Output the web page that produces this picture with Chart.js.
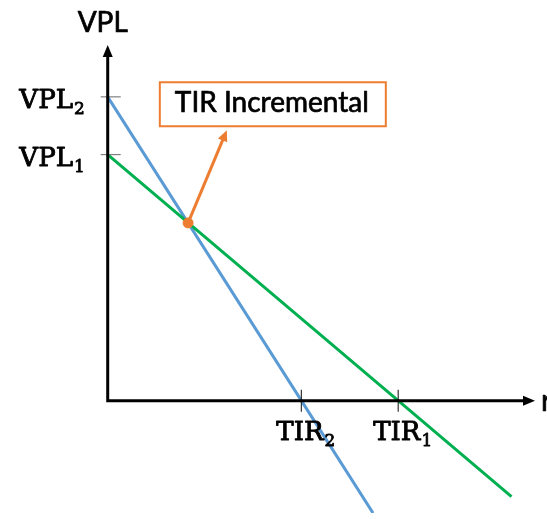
<!DOCTYPE html>
<html>
<head>
<meta charset="utf-8">
<script src="https://cdn.jsdelivr.net/npm/chart.js@4/dist/chart.umd.min.js"></script>
<style>
html,body{margin:0;padding:0;background:#fff;overflow:hidden;}
canvas{display:block;}
</style>
</head>
<body>
<canvas id="c" width="547" height="519"></canvas>
<script>
// ---- data ----
const vplValues = [100, 81];          // VPL2, VPL1 (intercepts on the VPL axis)
const tirValues = [2, 3];             // TIR2, TIR1 (intercepts on the r axis)
const yTickLabels = [["VPL", "2"], ["VPL", "1"]];
const xTickLabels = [["TIR", "2"], ["TIR", "1"]];
const project2 = [{x: 0, y: 100}, {x: 2, y: 0}, {x: 2.74, y: -37}];   // blue
const project1 = [{x: 0, y: 81}, {x: 3, y: 0}, {x: 4.17, y: -31.6}];   // green
const incremental = [{x: 0.83, y: 58.5}];   // crossing point (TIR incremental)
const arrowTip = {x: 1.23, y: 89};
const axisTitleY = "VPL";
const axisTitleX = "r";
const calloutText = "TIR Incremental";

const BLUE = '#5B9BD5', GREEN = '#00B050', ORANGE = '#ED7D31';

function arrowHead(ctx, x, y, angle, len, half) {
  ctx.save();
  ctx.translate(x, y);
  ctx.rotate(angle);
  ctx.beginPath();
  ctx.moveTo(0, 0);
  ctx.lineTo(-len, -half);
  ctx.lineTo(-len, half);
  ctx.closePath();
  ctx.fill();
  ctx.restore();
}

function heavyText(ctx, txt, x, y, w) {
  ctx.fillText(txt, x, y);
  ctx.save();
  ctx.lineWidth = w;
  ctx.strokeStyle = ctx.fillStyle;
  ctx.lineJoin = 'round';
  ctx.strokeText(txt, x, y);
  ctx.restore();
}

function subLabel(ctx, main, sub, x, y, align) {
  ctx.font = '26px "DejaVu Serif"';
  const w1 = ctx.measureText(main).width;
  ctx.font = '17px "DejaVu Serif"';
  const w2 = ctx.measureText(sub).width;
  let left = x;
  if (align === 'right') left = x - w1 - w2;
  ctx.textAlign = 'left';
  ctx.textBaseline = 'alphabetic';
  ctx.font = '26px "DejaVu Serif"';
  heavyText(ctx, main, left, y, 0.9);
  ctx.font = '17px "DejaVu Serif"';
  heavyText(ctx, sub, left + w1 + 1, y + 6, 0.8);
}

const decor = {
  id: 'decor',
  beforeDatasetsDraw(chart) {
    const ctx = chart.ctx, xs = chart.scales.x, ys = chart.scales.y;
    const p0x = xs.getPixelForValue(incremental[0].x), p0y = ys.getPixelForValue(incremental[0].y);
    const tx = xs.getPixelForValue(arrowTip.x), ty = ys.getPixelForValue(arrowTip.y);
    ctx.save();
    ctx.strokeStyle = ORANGE; ctx.fillStyle = ORANGE; ctx.lineWidth = 3;
    const ang = Math.atan2(ty - p0y, tx - p0x);
    ctx.beginPath();
    ctx.moveTo(p0x, p0y);
    ctx.lineTo(tx - Math.cos(ang) * 8, ty - Math.sin(ang) * 8);
    ctx.stroke();
    arrowHead(ctx, tx, ty, ang, 11, 5);
    // callout box
    const bx = tx - 67, by = ty - 48, bw = 226, bh = 44;
    ctx.fillStyle = '#fff';
    ctx.fillRect(bx, by, bw, bh);
    ctx.lineWidth = 2;
    ctx.strokeRect(bx, by, bw, bh);
    ctx.fillStyle = '#000';
    ctx.font = '28px Lato';
    ctx.textAlign = 'center';
    ctx.textBaseline = 'alphabetic';
    heavyText(ctx, calloutText, bx + bw / 2 - 1, by + 30, 0.7);
    ctx.restore();
  },
  afterDatasetsDraw(chart) {
    const ctx = chart.ctx, xs = chart.scales.x, ys = chart.scales.y;
    const ox = xs.getPixelForValue(0), oy = ys.getPixelForValue(0);
    ctx.save();
    // tick marks
    ctx.strokeStyle = '#7f7f7f'; ctx.lineWidth = 1.2;
    vplValues.forEach(v => {
      const py = ys.getPixelForValue(v);
      ctx.beginPath(); ctx.moveTo(ox - 7, py); ctx.lineTo(ox + 13, py); ctx.stroke();
    });
    ctx.strokeStyle = '#333';
    tirValues.forEach(v => {
      const px = xs.getPixelForValue(v);
      ctx.beginPath(); ctx.moveTo(px, oy - 11); ctx.lineTo(px, oy + 11); ctx.stroke();
    });
    // axes
    ctx.strokeStyle = '#000'; ctx.fillStyle = '#000'; ctx.lineWidth = 3;
    const yTop = 45, xEnd = 535;
    ctx.beginPath();
    ctx.moveTo(ox, yTop + 8); ctx.lineTo(ox, oy); ctx.lineTo(xEnd - 8, oy);
    ctx.stroke();
    arrowHead(ctx, ox, yTop, -Math.PI / 2, 12, 5);
    arrowHead(ctx, xEnd, oy, 0, 12, 5);
    // axis titles
    ctx.font = '28px Lato';
    ctx.textAlign = 'center'; ctx.textBaseline = 'alphabetic';
    heavyText(ctx, axisTitleY, ox - 5, 32, 0.7);
    ctx.textAlign = 'left';
    ctx.font = '30px Lato';
    heavyText(ctx, axisTitleX, xEnd + 6, oy + 10, 0.7);
    // tick labels
    vplValues.forEach((v, i) => {
      const py = ys.getPixelForValue(v);
      subLabel(ctx, yTickLabels[i][0], yTickLabels[i][1], ox - 24, py + 11, 'right');
    });
    tirValues.forEach((v, i) => {
      const px = xs.getPixelForValue(v);
      subLabel(ctx, xTickLabels[i][0], xTickLabels[i][1], px - 25, oy + 39, 'left');
    });
    ctx.restore();
  }
};

new Chart(document.getElementById('c'), {
  type: 'scatter',
  data: {
    datasets: [
      {data: incremental, backgroundColor: ORANGE, borderColor: ORANGE, pointRadius: 5, showLine: false},
      {data: project1, borderColor: GREEN, borderWidth: 3, pointRadius: 0, showLine: true, fill: false},
      {data: project2, borderColor: BLUE, borderWidth: 3, pointRadius: 0, showLine: true, fill: false}
    ]
  },
  options: {
    responsive: false,
    devicePixelRatio: 1,
    animation: false,
    events: [],
    layout: {padding: 0},
    plugins: {legend: {display: false}, tooltip: {enabled: false}},
    scales: {
      x: {type: 'linear', display: false, min: -104 / 99, max: (547 - 104) / 99},
      y: {type: 'linear', display: false, min: -(519 - 404) / 3.11, max: 404 / 3.11}
    }
  },
  plugins: [decor]
});
</script>
</body>
</html>
